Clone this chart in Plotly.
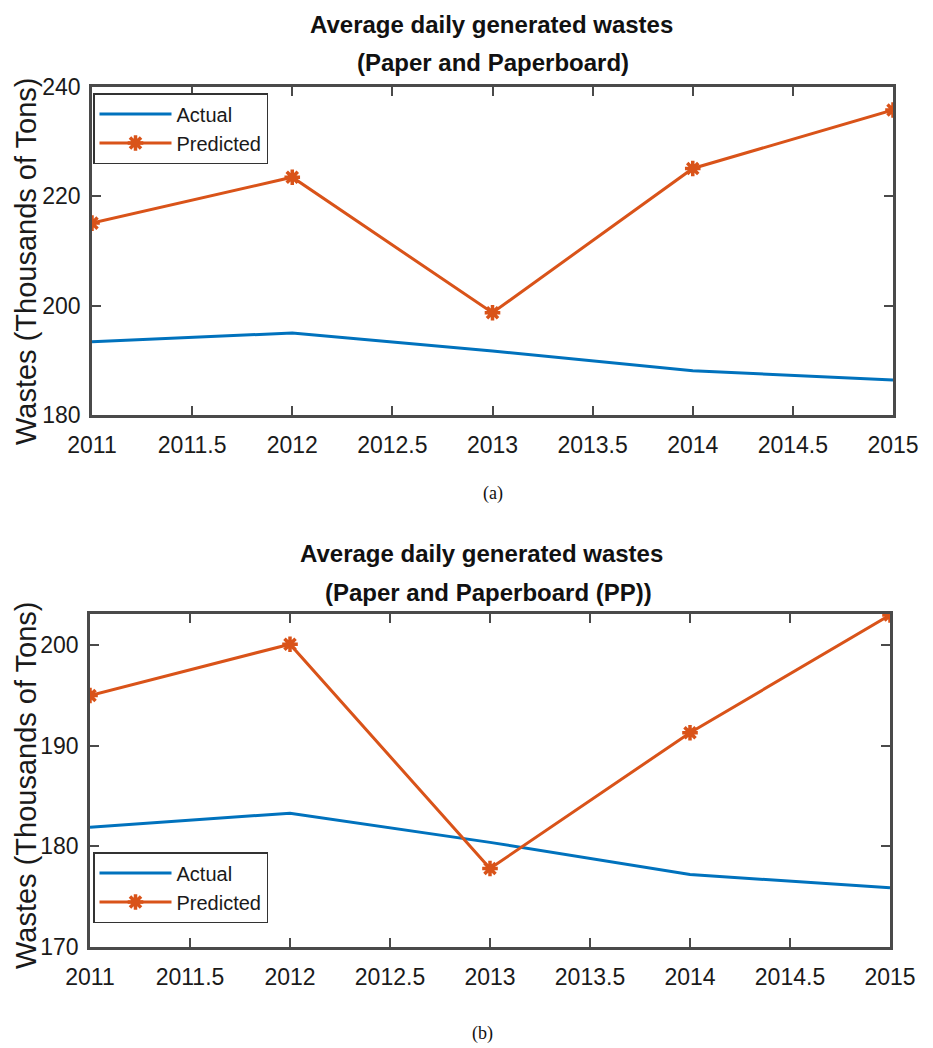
import plotly.graph_objects as go

# ---------------- data ----------------
years = [2011, 2012, 2013, 2014, 2015]
actual_a = [193.4, 195.0, 191.7, 188.1, 186.4]
predicted_a = [215.1, 223.5, 198.7, 225.1, 235.8]
actual_b = [181.9, 183.3, 180.4, 177.2, 175.9]
predicted_b = [195.0, 200.1, 177.8, 191.3, 203.0]

x_tickvals = [2011, 2011.5, 2012, 2012.5, 2013, 2013.5, 2014, 2014.5, 2015]
x_ticktext = ["2011", "2011.5", "2012", "2012.5", "2013", "2013.5", "2014", "2014.5", "2015"]
y_tickvals_a = [180, 200, 220, 240]
y_tickvals_b = [170, 180, 190, 200]

series_names = ["Actual", "Predicted"]
title_a = ["Average daily generated wastes", "(Paper and Paperboard)"]
title_b = ["Average daily generated wastes", "(Paper and Paperboard (PP))"]
y_title = "Wastes (Thousands of Tons)"
captions = ["(a)", "(b)"]

# ---------------- style ----------------
W, H = 933, 1048
BLUE = "#0072BD"
ORANGE = "#D95319"
AX = "#4a4a4a"
NARROW = "Liberation Sans Narrow, Arial Narrow, Liberation Sans, Arial, sans-serif"
ARIAL = "Liberation Sans, Arial, sans-serif"


def px(x):
    return x / W


def py(y):
    return 1 - y / H


fig = go.Figure()

fig.add_trace(go.Scatter(x=years, y=actual_a, mode="lines", name=series_names[0],
                         line=dict(color=BLUE, width=3), xaxis="x", yaxis="y",
                         legend="legend"))
fig.add_trace(go.Scatter(x=years, y=predicted_a, mode="lines+markers", name=series_names[1],
                         line=dict(color=ORANGE, width=3),
                         marker=dict(symbol="asterisk-open", size=13, color=ORANGE,
                                     line=dict(color=ORANGE, width=3.5)),
                         xaxis="x", yaxis="y", legend="legend"))
fig.add_trace(go.Scatter(x=years, y=actual_b, mode="lines", name=series_names[0],
                         line=dict(color=BLUE, width=3), xaxis="x2", yaxis="y2",
                         legend="legend2"))
fig.add_trace(go.Scatter(x=years, y=predicted_b, mode="lines+markers", name=series_names[1],
                         line=dict(color=ORANGE, width=3),
                         marker=dict(symbol="asterisk-open", size=13, color=ORANGE,
                                     line=dict(color=ORANGE, width=3.5)),
                         xaxis="x2", yaxis="y2", legend="legend2"))

tick_font = dict(family=NARROW, size=23, color="#1a1a1a")
common = dict(showline=True, linecolor=AX, linewidth=2.5, mirror="ticks",
              ticks="inside", ticklen=9, tickwidth=1.5, tickcolor=AX,
              showgrid=False, zeroline=False, tickfont=tick_font, automargin=False)

legend_style = dict(xanchor="left", yanchor="top",
                    bgcolor="white", bordercolor="#333333", borderwidth=1.5,
                    font=dict(family=NARROW, size=20, color="#1a1a1a"),
                    tracegroupgap=0, itemwidth=72)

fig.update_layout(
    width=W, height=H,
    margin=dict(l=0, r=0, t=0, b=0, autoexpand=False),
    paper_bgcolor="white", plot_bgcolor="white",
    xaxis=dict(domain=[px(92), px(893)], range=[2011, 2015], anchor="y",
               tickvals=x_tickvals, ticktext=x_ticktext, ticklabelstandoff=8, **common),
    yaxis=dict(domain=[py(415), py(87)], range=[180, 240], anchor="x",
               tickvals=y_tickvals_a, ticklabelstandoff=4, **common),
    xaxis2=dict(domain=[px(90), px(890)], range=[2011, 2015], anchor="y2",
                tickvals=x_tickvals, ticktext=x_ticktext, ticklabelstandoff=8, **common),
    yaxis2=dict(domain=[py(947), py(614)], range=[170, 203.1], anchor="x2",
                tickvals=y_tickvals_b, ticklabelstandoff=4, **common),
    legend=dict(x=px(93), y=py(93), **legend_style),
    legend2=dict(x=px(93), y=py(852), **legend_style),
    showlegend=True,
)

annotations = []
title_font = dict(family=ARIAL, size=24, color="#111111")
for (lines, ys, xs) in [(title_a, [25, 63], [491, 493]), (title_b, [553, 592], [481, 488])]:
    for t, yy, xx in zip(lines, ys, xs):
        annotations.append(dict(text="<b>" + t + "</b>", x=px(xx), y=py(yy), xref="paper", yref="paper",
                                xanchor="center", yanchor="middle", showarrow=False, font=title_font))
for yc in [261, 785]:
    annotations.append(dict(text=y_title, x=px(26), y=py(yc), xref="paper", yref="paper",
                            xanchor="center", yanchor="middle", textangle=-90, showarrow=False,
                            font=dict(family=ARIAL, size=29, color="#1a1a1a")))
for cap, (xx, yy) in zip(captions, [(493, 493), (482, 1033)]):
    annotations.append(dict(text=cap, x=px(xx), y=py(yy), xref="paper", yref="paper",
                            xanchor="center", yanchor="middle", showarrow=False,
                            font=dict(family="Liberation Serif, Times New Roman, serif", size=18, color="#111111")))
fig.update_layout(annotations=annotations)

fig.write_html("out.html")
